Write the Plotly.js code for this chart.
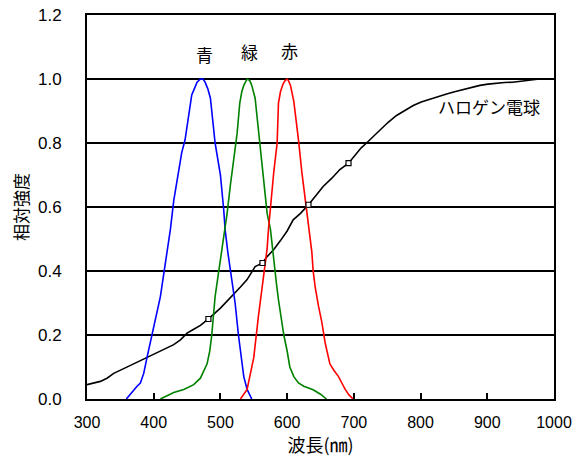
<!DOCTYPE html>
<html><head><meta charset="utf-8">
<script src="https://cdn.plot.ly/plotly-3.0.1.min.js"></script>
<style>body{margin:0;background:#fff}#c{width:579px;height:459px}</style>
</head><body><div id="c"></div>
<script>
const blueX = [359,365,370,375,380,385,390,397,405,410,415,420,425,430,436,442,447,452,457,461,465,470,474,477,481,485,489,492,496,500,505,507,511,515,522,527,531,535,540,547];
const blueY = [0,0.015,0.03,0.04,0.05,0.08,0.13,0.2,0.27,0.32,0.39,0.46,0.53,0.62,0.7,0.77,0.81,0.88,0.95,0.97,0.99,1.0,1.0,0.99,0.97,0.94,0.87,0.8,0.75,0.7,0.59,0.53,0.46,0.4,0.3,0.2,0.13,0.07,0.03,0];
const greenX = [410,420,430,445,460,470,480,484,487,492,497,502,507,510,515,520,525,529,532,535,540,544,547,552,556,560,564,567,570,575,580,584,587,590,595,600,604,610,617,625,632,639,650,659];
const greenY = [0,0.01,0.02,0.03,0.045,0.065,0.11,0.15,0.2,0.32,0.39,0.47,0.53,0.58,0.67,0.75,0.83,0.925,0.96,0.98,1.0,0.995,0.98,0.94,0.86,0.78,0.7,0.65,0.58,0.53,0.425,0.36,0.31,0.27,0.2,0.15,0.1,0.07,0.05,0.04,0.034,0.029,0.015,0];
const redX = [530,535,540,545,550,557,561,565,570,572,575,580,585,587,590,594,597,600,602,605,610,614,617,622,627,632,637,639,642,647,652,657,664,670,677,682,687,693,699];
const redY = [0,0.015,0.03,0.08,0.13,0.26,0.33,0.39,0.47,0.53,0.6,0.71,0.8,0.925,0.96,0.985,0.995,1.0,0.995,0.98,0.93,0.87,0.81,0.71,0.62,0.53,0.46,0.4,0.35,0.29,0.24,0.175,0.11,0.09,0.07,0.05,0.03,0.012,0];
const halogenX = [300,310,320,330,340,355,370,385,400,415,430,440,450,460,470,476,482,490,500,510,520,530,540,546,552,558,563,570,580,590,600,609,620,632,643,654,667,679,692,698,704,711,719,729,739,751,764,776,789,801,814,826,839,851,864,876,889,901,914,926,938,958,978,1000];
const halogenY = [0.045,0.05,0.055,0.065,0.08,0.095,0.11,0.125,0.14,0.155,0.17,0.185,0.206,0.218,0.23,0.24,0.25,0.265,0.284,0.305,0.326,0.35,0.373,0.393,0.414,0.42,0.425,0.445,0.467,0.495,0.525,0.56,0.58,0.607,0.636,0.664,0.69,0.717,0.737,0.753,0.77,0.785,0.8,0.82,0.84,0.864,0.886,0.902,0.917,0.928,0.937,0.946,0.953,0.96,0.967,0.974,0.98,0.984,0.987,0.989,0.99,0.995,1.0,1.0];
const markerX = [482,563,632,692];
const markerY = [0.25,0.425,0.607,0.737];
const labels = ['青','緑','赤','ハロゲン電球'];
const labelX = [476,543,603,903];
const labelY = [1.076,1.085,1.09,0.913];

const lw = 1.6;
const traces = [
  {x: halogenX, y: halogenY, mode:'lines', line:{color:'#000000', width:lw}},
  {x: blueX, y: blueY, mode:'lines', line:{color:'#0000ff', width:lw}},
  {x: greenX, y: greenY, mode:'lines', line:{color:'#008000', width:lw}},
  {x: redX, y: redY, mode:'lines', line:{color:'#ff0000', width:lw}},
  {x: markerX, y: markerY, mode:'markers', marker:{symbol:'square', size:5, color:'#ffffff', line:{color:'#000000', width:1.2}}}
];
const annotations = labels.map((t,i)=>({x:labelX[i], y:labelY[i], xref:'x', yref:'y', text:t, showarrow:false,
  font:{family:'Noto Sans CJK JP', size:17, color:'#000'}}));
const layout = {
  width:579, height:459, showlegend:false,
  paper_bgcolor:'#fff', plot_bgcolor:'#fff',
  margin:{l:87, r:25, t:15, b:60},
  font:{family:'Liberation Sans, Arial, sans-serif', color:'#000'},
  xaxis:{range:[300,1000], dtick:100, tick0:300, showgrid:false, zeroline:false,
    showline:true, linecolor:'#000', linewidth:2, mirror:true,
    ticks:'inside', ticklen:6, tickwidth:2, tickcolor:'#000',
    tickfont:{size:16, family:'Liberation Sans, Arial, sans-serif'}, ticklabelstandoff:8,
    title:{text:'波長(㎚)', font:{family:'Noto Sans CJK JP', size:18}, standoff:2}},
  yaxis:{range:[0,1.2], dtick:0.2, tickformat:'.1f', showgrid:true, gridcolor:'#000', gridwidth:1.5,
    zeroline:false, showline:true, linecolor:'#000', linewidth:2, mirror:true, ticks:'',
    tickfont:{size:17, family:'Liberation Sans, Arial, sans-serif'}, ticklabelstandoff:20,
    title:{text:'相対強度', font:{family:'Noto Sans CJK JP', size:17}, standoff:5}},
  annotations: annotations
};
Plotly.newPlot('c', traces, layout, {staticPlot:true, displayModeBar:false});
</script></body></html>
